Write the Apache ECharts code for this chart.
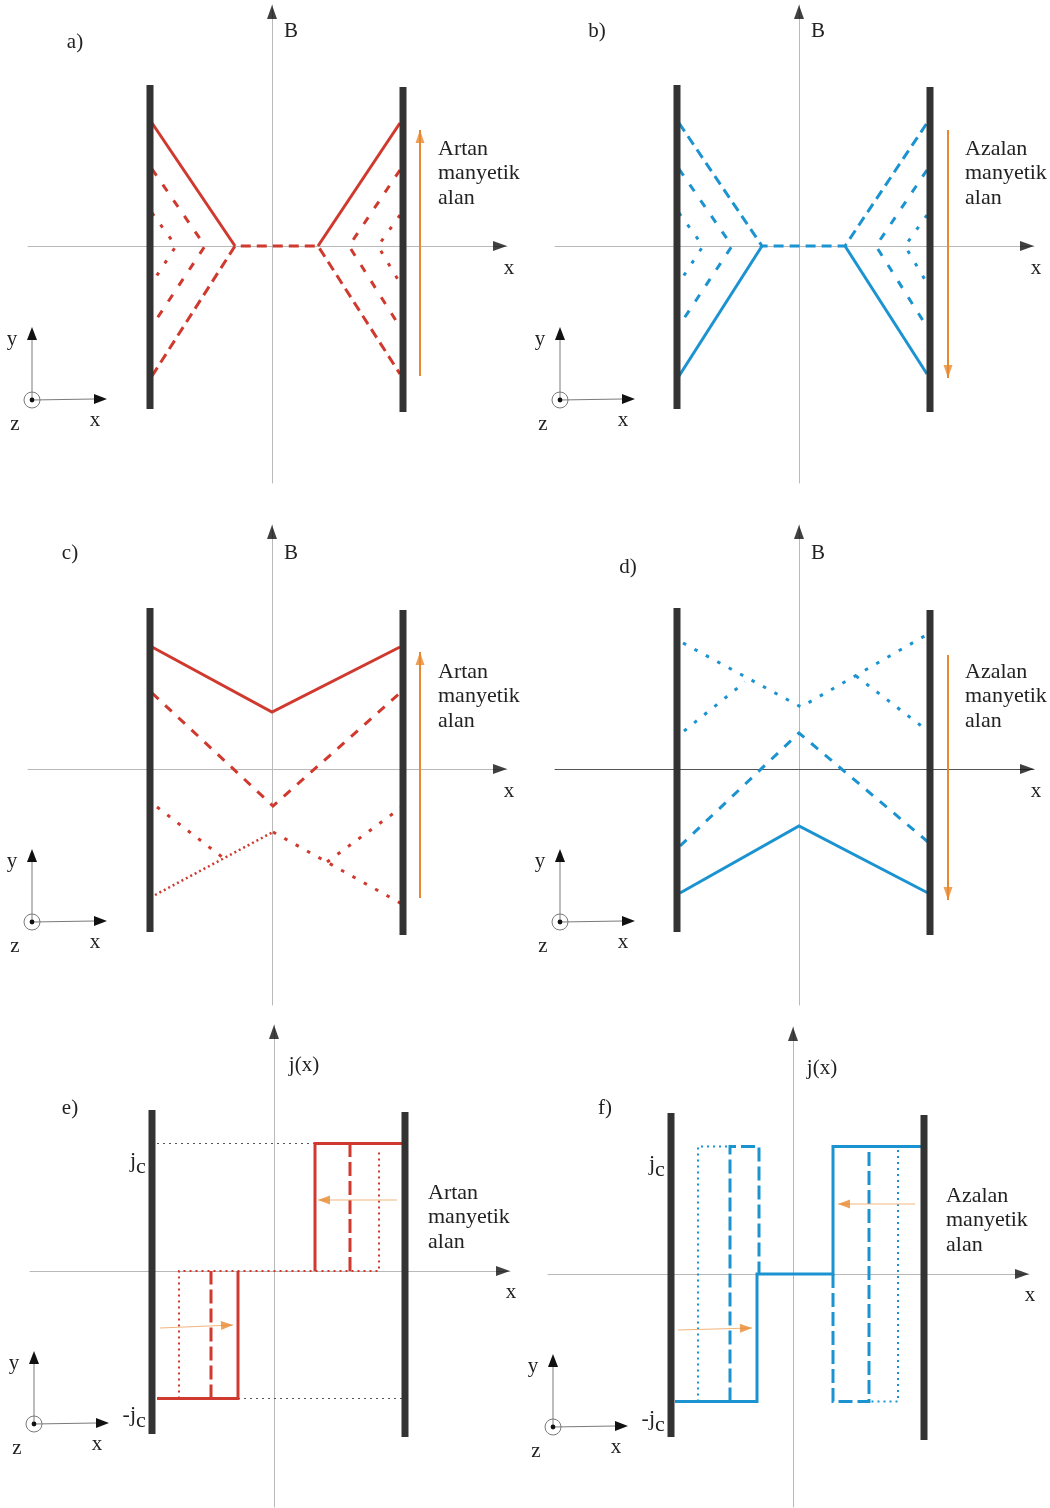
<!DOCTYPE html>
<html>
<head>
<meta charset="utf-8">
<script src="https://cdn.jsdelivr.net/npm/echarts@6/dist/echarts.min.js"></script>
<style>
  html, body { margin: 0; padding: 0; background: #fff; }
  #chart { width: 1050px; height: 1508px; }
</style>
</head>
<body>
<div id="chart"></div>
<script>
// Bean critical-state model: field profiles B(x) and current density j(x)
// inside a superconducting slab. Units are arbitrary (x and B share a scale).

// Critical current density level
const JC = 127.5;

// Slab surfaces (shared by every panel)
const wallLeft  = [[-122, 161], [-122, -163]];
const wallRight = [[131, 159], [131, -166]];

// a) increasing applied field: partial penetration
const aSolid  = [[[-120, 123], [-37, 0]], [[46, 0], [128, 123]]];
const aDashed = [[[-120, -130], [-37, 0], [46, 0], [128, -128]]];
const aInner  = [[[-120, 77], [-67, 0], [-120, -80]],
                 [[128, 76], [77, 0], [128, -81]]];
const aDotted = [[[-120, 33], [-96, 0], [-120, -37]],
                 [[128, 31], [106, 0], [128, -37]]];
const aArrow  = [[148, -130], [148, 116]];

// b) decreasing applied field: partial penetration
const bSolid  = [[[-120, -130], [-37, 0]], [[46, 0], [128, -128]]];
const bDashed = [[[-120, 123], [-37, 0], [46, 0], [128, 123]]];
const bInner  = [[[-120, 77], [-67, 0], [-120, -80]],
                 [[128, 76], [77, 0], [128, -81]]];
const bDotted = [[[-120, 33], [-96, 0], [-120, -37]],
                 [[128, 31], [106, 0], [128, -37]]];
const bArrow  = [[149, 116], [149, -132]];

// c) increasing applied field: full penetration
const cSolid  = [[[-120, 122], [0, 57], [128, 122]]];
const cDashed = [[[-120, 76], [1, -37], [128, 76]]];
const cDotted = [[[1, -63], [130, -135]],
                 [[-115, -38], [-46, -91]],
                 [[55, -93], [130, -38]]];
const cDense  = [[[-117, -126], [1, -63]]];
const cArrow  = [[148, -129], [148, 117]];

// d) decreasing applied field: full penetration
const dSolid  = [[[-119, -124], [0, -57], [129, -124]]];
const dDashed = [[[-119, -77], [0, 36], [129, -73]]];
const dDotted = [[[-116, 126], [2, 62], [129, 135]],
                 [[-115, 38], [-54, 87]],
                 [[57, 93], [129, 38]]];
const dArrow  = [[149, 114], [149, -131]];

// e) current density, increasing field
const eSolid  = [[[-117, -JC], [-36, -JC], [-36, 0]], [[41, 0], [41, JC], [131, JC]]];
const eDashed = [[[-63, -JC], [-63, 0]], [[76, 0], [76, JC]]];
const eDotted = [[[-95, -JC], [-95, 0], [105, 0], [105, 120]]];
const eLevels = [[[-117, JC], [41, JC]], [[-36, -JC], [129, -JC]]];
const eArrows = [[[123, 71], [44, 71]], [[-114, -57], [-41, -54]]];

// f) current density, decreasing field
const fSolid  = [[[-118, -JC], [-36, -JC], [-36, 0], [40, 0], [40, JC], [130, JC]]];
const fDashed = [[[-63, -JC], [-63, JC], [-34, JC], [-34, 0]],
                 [[40, 0], [40, -JC], [76, -JC], [76, JC]]];
const fDotted = [[[-95, -JC], [-95, JC], [-63, JC]],
                 [[105, 124], [105, -JC], [76, -JC]]];
const fArrows = [[[122, 70], [45, 70]], [[-115, -56], [-41, -54]]];

// Text
const panelNames = ['a)', 'b)', 'c)', 'd)', 'e)', 'f)'];
const axisNames  = ['B', 'B', 'B', 'B', 'j(x)', 'j(x)'];
const noteUp   = ['Artan', 'manyetik', 'alan'];
const noteDown = ['Azalan', 'manyetik', 'alan'];

// ---------------------------------------------------------------------
const RED = '#cf392e', BLUE = '#1c93d1', ORANGE = '#e8892f', WALL = '#333333';
const SERIF = '"Liberation Serif", "DejaVu Serif", serif';

const layout = [
  { grid: { left: 28,  top: 5,    width: 479, height: 478 }, x: [-244, 235], y: [-237, 241], hAxis: '#b9b9b9' },
  { grid: { left: 555, top: 5,    width: 479, height: 478 }, x: [-244, 235], y: [-237, 241], hAxis: '#b9b9b9' },
  { grid: { left: 28,  top: 525,  width: 479, height: 480 }, x: [-244, 235], y: [-236, 244], hAxis: '#b9b9b9' },
  { grid: { left: 555, top: 525,  width: 479, height: 480 }, x: [-244, 235], y: [-236, 244], hAxis: '#555555' },
  { grid: { left: 30,  top: 1025, width: 480, height: 482 }, x: [-244, 236], y: [-236, 246], hAxis: '#b9b9b9' },
  { grid: { left: 548, top: 1027, width: 481, height: 480 }, x: [-245, 236], y: [-233, 247], hAxis: '#b9b9b9' }
];

const series = [];

function lines(idx, polylines, color, width, type, z) {
  polylines.forEach(function (pts) {
    series.push({
      type: 'line', xAxisIndex: idx, yAxisIndex: idx,
      data: pts, symbol: 'none', silent: true, z: z || 3, clip: false,
      lineStyle: { color: color, width: width, type: type, cap: 'butt', join: 'miter' }
    });
  });
}

// Arrowheads whose tips sit exactly on the given points
function heads(idx, tips, color, size) {
  series.push({
    type: 'scatter', xAxisIndex: idx, yAxisIndex: idx, silent: true, clip: false, z: 6,
    symbol: 'triangle', symbolSize: size,
    itemStyle: { color: color },
    data: tips.map(function (t) {
      const dx = t[1][0], dy = t[1][1];
      const len = Math.hypot(dx, dy);
      const ux = dx / len, uy = dy / len;
      const h = size[1] / 2;
      return {
        value: t[0],
        symbolRotate: Math.atan2(dy, dx) * 180 / Math.PI - 90,
        symbolOffset: [-h * ux, h * uy]
      };
    })
  });
}

function arrows(idx, segs, shaftColor, shaftWidth, headColor, size) {
  lines(idx, segs, shaftColor, shaftWidth, 'solid', 5);
  heads(idx, segs.map(function (s) {
    return [s[1], [s[1][0] - s[0][0], s[1][1] - s[0][1]]];
  }), headColor, size);
}

const xAxes = [], yAxes = [], grids = [];
layout.forEach(function (p, i) {
  grids.push(p.grid);
  xAxes.push({
    type: 'value', gridIndex: i, min: p.x[0], max: p.x[1],
    axisLine: { show: true, onZero: true, lineStyle: { color: p.hAxis, width: 1 } },
    axisTick: { show: false }, axisLabel: { show: false }, splitLine: { show: false }
  });
  yAxes.push({
    type: 'value', gridIndex: i, min: p.y[0], max: p.y[1],
    axisLine: { show: true, onZero: true, lineStyle: { color: '#b9b9b9', width: 1 } },
    axisTick: { show: false }, axisLabel: { show: false }, splitLine: { show: false }
  });
  // black arrowheads at the ends of both axes
  heads(i, [[[0, p.y[1]], [0, 1]], [[p.x[1], 0], [1, 0]]], '#111', [10, 14]);
  // slab surfaces
  lines(i, [wallLeft, wallRight], WALL, 7, 'solid', 4);
});

// a)
lines(0, aSolid, RED, 3, 'solid');
lines(0, aDashed, RED, 3, [10, 6]);
lines(0, aInner, RED, 3, [8, 11]);
lines(0, aDotted, RED, 3, [3.5, 11]);
arrows(0, [aArrow], ORANGE, 2, ORANGE, [9, 13]);
// b)
lines(1, bSolid, BLUE, 3, 'solid');
lines(1, bDashed, BLUE, 3, [10, 6]);
lines(1, bInner, BLUE, 3, [8, 11]);
lines(1, bDotted, BLUE, 3, [3.5, 11]);
arrows(1, [bArrow], ORANGE, 2, ORANGE, [9, 13]);
// c)
lines(2, cSolid, RED, 3, 'solid');
lines(2, cDashed, RED, 3, [9, 9]);
lines(2, cDotted, RED, 3, [3.5, 9.5]);
lines(2, cDense, RED, 2.5, [2, 3]);
arrows(2, [cArrow], ORANGE, 2, ORANGE, [9, 13]);
// d)
lines(3, dSolid, BLUE, 3, 'solid');
lines(3, dDashed, BLUE, 3, [9, 9]);
lines(3, dDotted, BLUE, 3, [3.5, 9.5]);
arrows(3, [dArrow], ORANGE, 2, ORANGE, [9, 13]);
// e)
lines(4, eLevels, '#555', 1.2, [2, 4], 2);
lines(4, eSolid, RED, 3, 'solid');
lines(4, eDashed, RED, 3, [14, 5]);
lines(4, eDotted, RED, 2, [2, 4]);
arrows(4, eArrows, '#f2b57c', 1, ORANGE, [9, 12]);
// f)
lines(5, fSolid, BLUE, 3, 'solid');
lines(5, fDashed, BLUE, 3, [14, 5]);
lines(5, fDotted, BLUE, 2, [2, 4]);
arrows(5, fArrows, '#f2b57c', 1, ORANGE, [9, 12]);

// ---------------------------------------------------------------------
// Text labels and small coordinate triads
function txt(x, y, s, extra) {
  return {
    type: 'text', x: x, y: y, silent: true, z: 10,
    style: Object.assign({
      text: s, fill: '#222', font: '21px ' + SERIF,
      align: 'center', verticalAlign: 'middle'
    }, extra || {})
  };
}

function triad(x0, y0) {
  const g = '#7a7a7a';
  return [
    { type: 'line', silent: true, shape: { x1: x0, y1: y0, x2: x0, y2: y0 - 61 }, style: { stroke: g, lineWidth: 1 } },
    { type: 'polygon', silent: true, shape: { points: [[x0, y0 - 73], [x0 - 5, y0 - 60], [x0 + 5, y0 - 60]] }, style: { fill: '#111' } },
    { type: 'line', silent: true, shape: { x1: x0, y1: y0, x2: x0 + 62, y2: y0 - 1 }, style: { stroke: g, lineWidth: 1 } },
    { type: 'polygon', silent: true, shape: { points: [[x0 + 75, y0 - 1], [x0 + 62, y0 - 6], [x0 + 62, y0 + 4]] }, style: { fill: '#111' } },
    { type: 'circle', silent: true, shape: { cx: x0, cy: y0, r: 8 }, style: { fill: 'none', stroke: g, lineWidth: 1 } },
    { type: 'circle', silent: true, shape: { cx: x0, cy: y0, r: 2.4 }, style: { fill: '#111' } },
    txt(x0 - 20, y0 - 61, 'y'),
    txt(x0 - 17, y0 + 24, 'z'),
    txt(x0 + 63, y0 + 20, 'x')
  ];
}

function note(x, y, linesOfText) {
  return linesOfText.map(function (s, k) {
    return txt(x, y + k * 24.5, s, { align: 'left', font: '22px ' + SERIF });
  });
}

const labelPos = [
  { tag: [75, 42],   name: [291, 31],   x: [509, 268],   note: [438, 149],  tri: [32, 400] },
  { tag: [597, 31],  name: [818, 31],   x: [1036, 268],  note: [965, 149],  tri: [560, 400] },
  { tag: [70, 553],  name: [291, 553],  x: [509, 791],   note: [438, 672],  tri: [32, 922] },
  { tag: [628, 567], name: [818, 553],  x: [1036, 791],  note: [965, 672],  tri: [560, 922] },
  { tag: [70, 1108], name: [304, 1065], x: [511, 1292],  note: [428, 1193], tri: [34, 1424] },
  { tag: [605, 1108],name: [822, 1068], x: [1030, 1295], note: [946, 1196], tri: [553, 1427] }
];

let graphic = [];
labelPos.forEach(function (p, i) {
  graphic.push(txt(p.tag[0], p.tag[1], panelNames[i]));
  graphic.push(txt(p.name[0], p.name[1], axisNames[i]));
  graphic.push(txt(p.x[0], p.x[1], 'x'));
  graphic = graphic.concat(note(p.note[0], p.note[1], i % 2 === 0 ? noteUp : noteDown));
  graphic = graphic.concat(triad(p.tri[0], p.tri[1]));
});

// j_c and -j_c level labels
function jcLabel(xr, yBase, sign) {
  return [
    txt(xr, yBase, sign + 'j', { align: 'right', verticalAlign: 'alphabetic', font: '22px ' + SERIF }),
    txt(xr, yBase + 6, 'c', { align: 'left', verticalAlign: 'alphabetic', font: '22px ' + SERIF })
  ];
}
graphic = graphic.concat(jcLabel(136, 1150, ''), jcLabel(136, 1404, '-'),
                         jcLabel(655, 1153, ''), jcLabel(655, 1408, '-'));

const chart = echarts.init(document.getElementById('chart'), null, { renderer: 'canvas' });
chart.setOption({
  animation: false,
  backgroundColor: '#ffffff',
  grid: grids,
  xAxis: xAxes,
  yAxis: yAxes,
  series: series,
  graphic: graphic
});
</script>
</body>
</html>
